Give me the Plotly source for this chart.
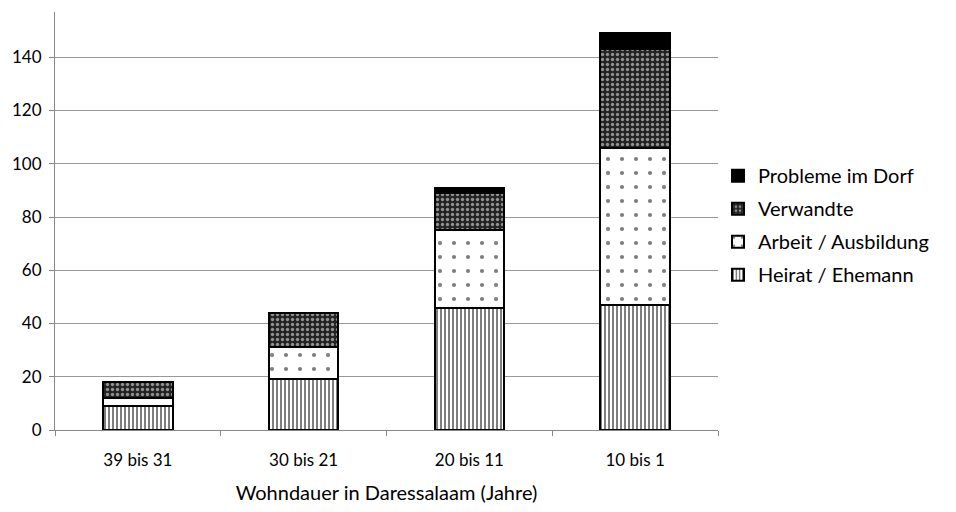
import plotly.graph_objects as go

categories = ["39 bis 31", "30 bis 21", "20 bis 11", "10 bis 1"]
heirat = [9, 19, 46, 47]
arbeit = [3, 12, 29, 59]
verwandte = [6, 13, 14, 37]
probleme = [0, 0, 2, 6]

series_names = ["Heirat / Ehemann", "Arbeit / Ausbildung", "Verwandte", "Probleme im Dorf"]
y_ticks = [0, 20, 40, 60, 80, 100, 120, 140]

patterns = [
    dict(shape="|", fgcolor="black", bgcolor="white", size=4, solidity=0.5),
    dict(shape=".", fgcolor="black", bgcolor="white", size=14, solidity=0.07),
    dict(shape=".", fgcolor="white", bgcolor="#222222", size=5, solidity=0.35),
    None,
]
fills = ["white", "white", "#222222", "black"]

fig = go.Figure()
for i, (name, vals, pat, fc) in enumerate(zip(series_names, [heirat, arbeit, verwandte, probleme], patterns, fills)):
    marker = dict(color=fc, line=dict(color="black", width=2))
    if pat is not None:
        marker["pattern"] = pat
    fig.add_trace(go.Bar(x=categories, y=vals, name=name, marker=marker, width=0.42,
                         legendgroup=f"g{i}", legendrank=1000 - i))

fig.update_layout(
    barmode="stack",
    width=956, height=512,
    margin=dict(l=55, r=238, t=12, b=82, autoexpand=False),
    plot_bgcolor="white", paper_bgcolor="white",
    font=dict(family="Lato, Open Sans, sans-serif", size=17, color="black"),
    legend=dict(traceorder="grouped", x=1.0, y=0.49, yanchor="middle", xanchor="left",
                font=dict(size=20), itemsizing="constant", tracegroupgap=4),
    xaxis=dict(type="category", showline=True, linecolor="#888", linewidth=1,
               ticks="outside", tickson="boundaries", ticklen=5, tickcolor="#888",
               ticklabelstandoff=15,
               title=dict(text="Wohndauer in Daressalaam (Jahre)", standoff=16)),
    yaxis=dict(range=[0, 157], tickvals=y_ticks, showline=True, linecolor="#888", linewidth=1,
               ticks="outside", ticklen=5, tickcolor="#888", showgrid=True, gridcolor="#999",
               gridwidth=1, zeroline=False, ticklabelstandoff=4),
    bargap=0.58,
)

fig.write_html("out.html")
